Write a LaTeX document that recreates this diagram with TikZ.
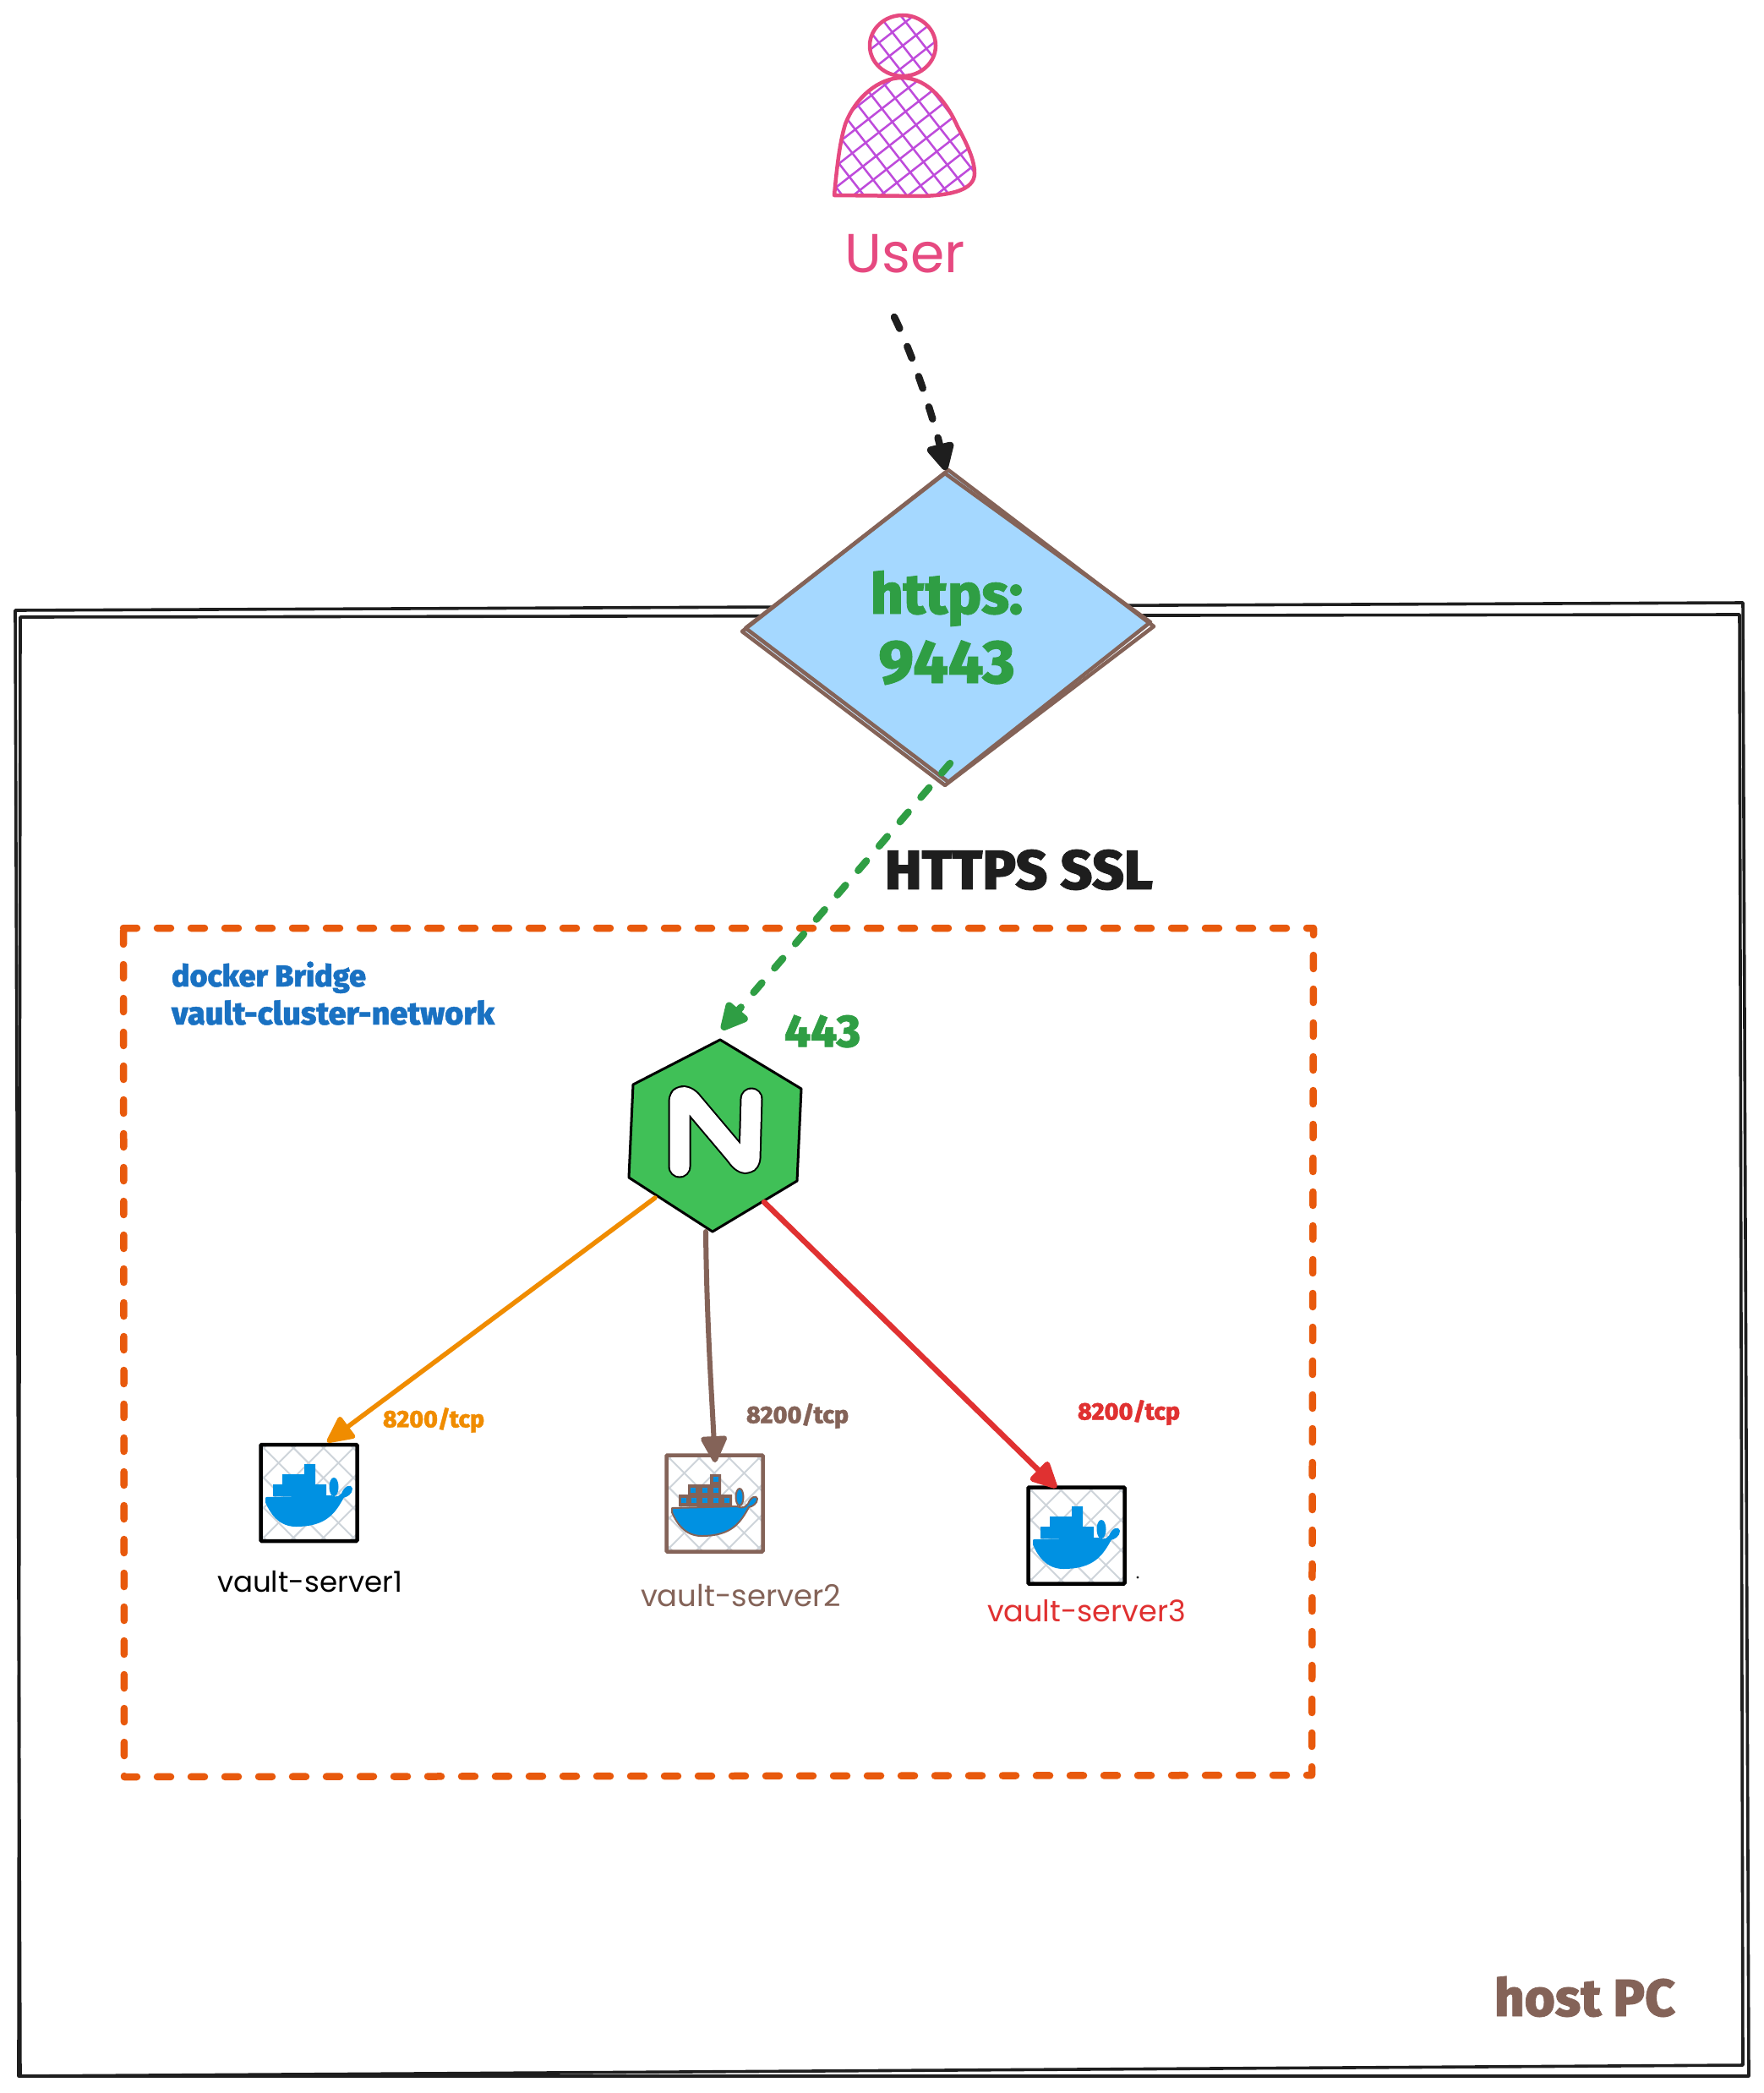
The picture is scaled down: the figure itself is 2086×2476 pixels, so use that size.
\documentclass[tikz,border=0pt]{standalone}
\usepackage{fontspec}
\usetikzlibrary{arrows.meta,calc}
\newfontfamily\heavy[FakeBold=1.2]{Fira Sans ExtraBold}
\newfontfamily\hand{Poppins}
\definecolor{cpink}{HTML}{E64980}
\definecolor{cviolet}{HTML}{BE4BDB}
\definecolor{cbrown}{HTML}{846358}
\definecolor{csky}{HTML}{A5D8FF}
\definecolor{cgreen}{HTML}{2F9E44}
\definecolor{cnginx}{HTML}{40C057}
\definecolor{corange}{HTML}{F08C00}
\definecolor{cred}{HTML}{E03131}
\definecolor{cblue}{HTML}{1971C2}
\definecolor{cdash}{HTML}{E8590C}
\definecolor{cink}{HTML}{1E1E1E}
\definecolor{cgrid}{HTML}{CED4DA}
\definecolor{cwhale}{HTML}{0091E2}
\newcommand{\fitw}[2]{\resizebox{#1pt}{!}{#2}}
\newcommand{\hatch}[6]{%
  \begin{scope}[shift={(#1,#2)},rotate=#3]
    \foreach \k in {-#5,...,#5} {\draw[#6] ({\k*#4},-300) -- ({\k*#4},300);}
  \end{scope}}
\newcommand{\whaleshape}[2]{%
  \path[fill=#1,draw=#2,line width=2pt,line join=round] (7,63) -- (84,61)
    .. controls (90,64) and (94,62) .. (97,58)
    .. controls (100,50) and (107,47) .. (108,52)
    .. controls (108,58) and (102,61) .. (98,62)
    .. controls (88,80) and (78,96) .. (42,96)
    .. controls (22,96) and (12,80) .. (7,68) -- cycle;
  \path[fill=#1,draw=#2,line width=2pt] (87,50) ellipse [x radius=4.5,y radius=10];
}
\newcommand{\containers}[1]{%
  \fill[#1] (15,47) rectangle (26,61) (26,35) rectangle (65,61)
            (52,23) rectangle (65,36) (65,47) rectangle (78,61);
}
\newcommand{\gridfill}[2]{%
  \begin{scope}
    \clip (#1,#2) rectangle ++(115,115);
    \hatch{#1+57}{#2+57}{45}{25}{5}{cgrid,line width=2pt}
    \hatch{#1+57}{#2+57}{-45}{25}{5}{cgrid,line width=2pt}
  \end{scope}}
\tikzset{
  sketchline/.style={line width=4.5pt,line join=round,line cap=round},
  framepen/.style={cink,line width=3.6pt,line join=round,line cap=round},
  dockerframe/.style={draw,line width=4.5pt,minimum size=114pt,inner sep=0pt,rounded corners=1pt},
  tiplarge/.style={-{Triangle[round,length=35pt,width=33pt]}},
  conn/.style={line cap=round,tiplarge},
  dashconn/.style={line width=8.5pt,line cap=round,dash pattern=on 15pt off 23pt,-{Triangle[round,length=37pt,width=35pt]}},
  lbl/.style={inner sep=0pt,outer sep=0pt},
}
\begin{document}
\begin{tikzpicture}[x=1pt,y=-1pt]
\useasboundingbox (0,0) rectangle (2086,2476);
\fill[white] (0,0) rectangle (2086,2476);

% host PC frame
\draw[framepen] (18,722) -- (2062,713) -- (2069,2456) -- (24,2456) -- cycle;
\draw[framepen] (24,730) -- (2058,727) -- (2062,2443) -- (22,2456) -- cycle;
\node[lbl,text=cbrown,anchor=base] (host) at (1875,2385) {\fitw{214}{\heavy host PC}};

% docker network
\draw[cdash,line width=8.5pt,dash pattern=on 16pt off 24pt,line cap=round,line join=round]
  (146,1098) -- (1554,1098) -- (1552,2100) -- (147,2102) -- cycle;
\node[lbl,anchor=base west,text=cblue] (net1) at (203,1167) {\fitw{230}{\heavy docker Bridge}};
\node[lbl,anchor=base west,text=cblue] (net2) at (203,1212) {\fitw{382}{\heavy vault-cluster-network}};

% user
\begin{scope}
  \clip (1068,54) ellipse [x radius=39,y radius=36];
  \hatch{1068}{54}{38}{20}{5}{cviolet,line width=2.5pt}
  \hatch{1068}{54}{-52}{20}{5}{cviolet,line width=2.5pt}
\end{scope}
\draw[cpink,line width=4.5pt] (1068,54) ellipse [x radius=39,y radius=36];
\begin{scope}
  \clip (987,231) .. controls (990,200) and (993,170) .. (1000,147)
    .. controls (1012,115) and (1040,92) .. (1067,92)
    .. controls (1100,92) and (1122,125) .. (1133,150)
    .. controls (1145,172) and (1153,190) .. (1153,205)
    .. controls (1153,225) and (1125,231) .. (1090,232) -- cycle;
  \hatch{1068}{160}{38}{20}{9}{cviolet,line width=2.5pt}
  \hatch{1068}{160}{-52}{20}{9}{cviolet,line width=2.5pt}
\end{scope}
\draw[cpink,line width=4.5pt,line join=round] (987,231) .. controls (990,200) and (993,170) .. (1000,147)
    .. controls (1012,115) and (1040,92) .. (1067,92)
    .. controls (1100,92) and (1122,125) .. (1133,150)
    .. controls (1145,172) and (1153,190) .. (1153,205)
    .. controls (1153,225) and (1125,231) .. (1090,232) -- cycle;
\node[lbl,text=cpink] (user) at (1071,300) {\fitw{142}{\hand User}};

% https diamond
\coordinate (dt) at (1122,558);
\coordinate (dr) at (1361,739);
\coordinate (db) at (1120,927);
\coordinate (dl) at (880,745);
\fill[csky] (dt) -- (dr) -- (db) -- (dl) -- cycle;
\draw[cbrown,sketchline] (1122,556) -- (1365,741) -- (1118,929) -- (878,747) -- cycle;
\draw[cbrown,sketchline] (1118,560) -- (1361,736) -- (1122,925) -- (882,743) -- cycle;
\node[lbl,text=cgreen,anchor=base] (https) at (1120,726) {\fitw{180}{\heavy https:}};
\node[lbl,text=cgreen,anchor=base] (port) at (1120,808) {\fitw{161}{\heavy 9443}};

% nginx
\coordinate (nt) at (852,1230);
\coordinate (nur) at (948,1288);
\coordinate (nlr) at (943,1397);
\coordinate (nb) at (843,1457);
\coordinate (nll) at (744,1393);
\coordinate (nul) at (749,1283);
\draw[fill=cnginx,draw=black,line width=3pt,line join=round] (nt) -- (nur) -- (nlr) -- (nb) -- (nll) -- (nul) -- cycle;
\def\npath{(804,1380) -- (804,1302) .. controls (804,1296) and (811,1296) .. (817,1302) -- (871,1366) .. controls (879,1378) and (886,1378) .. (887,1370) -- (889,1300)}
\draw[black,line width=27pt,line cap=round,line join=round] \npath;
\draw[white,line width=23pt,line cap=round,line join=round] \npath;

% docker containers
\gridfill{308}{1709}
\gridfill{788}{1721}
\gridfill{1216}{1759}
\begin{scope}[shift={(308,1709)}]
  \whaleshape{cwhale}{cwhale}\containers{cwhale}
\end{scope}
\begin{scope}[shift={(788,1721)}]
  \whaleshape{cwhale}{cbrown}\containers{cbrown}
  \foreach \q/\r in {59/29,32/42,46/42,59/42,21/54,33/54,46/54,59/54,72/54}
    {\fill[cwhale] ({\q-3},{\r-3}) rectangle ++(6,6);}
\end{scope}
\begin{scope}[shift={(1216,1759)}]
  \whaleshape{cwhale}{cwhale}\containers{cwhale}
\end{scope}
\node[dockerframe,draw=black] (d1) at (365.5,1766) {};
\node[dockerframe,draw=cbrown] (d2) at (845.5,1778.5) {};
\node[dockerframe,draw=black] (d3) at (1273.5,1816.5) {};
\fill[cink] (1346,1866) circle (1.6);

\node[lbl,anchor=west,text=black] (v1) at (257,1871) {\fitw{219}{\hand vault-server1}};
\node[lbl,anchor=west,text=cbrown] (v2) at (758,1888) {\fitw{237}{\hand vault-server2}};
\node[lbl,anchor=west,text=cred] (v3) at (1168,1906) {\fitw{235}{\hand vault-server3}};
\node[lbl,anchor=west,text=corange] (p1) at (453,1680) {\fitw{120}{\heavy 8200/tcp}};
\node[lbl,anchor=west,text=cbrown] (p2) at (883,1675) {\fitw{121}{\heavy 8200/tcp}};
\node[lbl,anchor=west,text=cred] (p3) at (1275,1671) {\fitw{121}{\heavy 8200/tcp}};
\node[lbl,anchor=west,text=cink] (ssl) at (1047,1029) {\fitw{317}{\heavy HTTPS SSL}};
\node[lbl,anchor=west,text=cgreen] (p443) at (928,1220) {\fitw{90}{\heavy 443}};

% connectors
\coordinate (ustart) at (1058,375);
\coordinate (dend) at (1119,556);
\draw[dashconn,cink] (ustart) .. controls (1080,420) and (1103,490) .. (dend);
\coordinate (gstart) at (1124,903);
\coordinate (gend) at (854,1218);
\draw[dashconn,cgreen] (gstart) -- (gend);
\coordinate (o1) at (775,1417);
\coordinate (o2) at (387,1706);
\draw[conn,corange,line width=5.5pt] (o1) -- (o2);
\coordinate (b1) at (835,1457);
\coordinate (b2) at (846,1730);
\draw[conn,cbrown,line width=6pt] (b1) .. controls (836,1560) and (842,1650) .. (b2);
\coordinate (r1) at (904,1422);
\coordinate (r2) at (1250,1760);
\draw[conn,cred,line width=6.5pt] (r1) -- (r2);
\end{tikzpicture}
\end{document}
